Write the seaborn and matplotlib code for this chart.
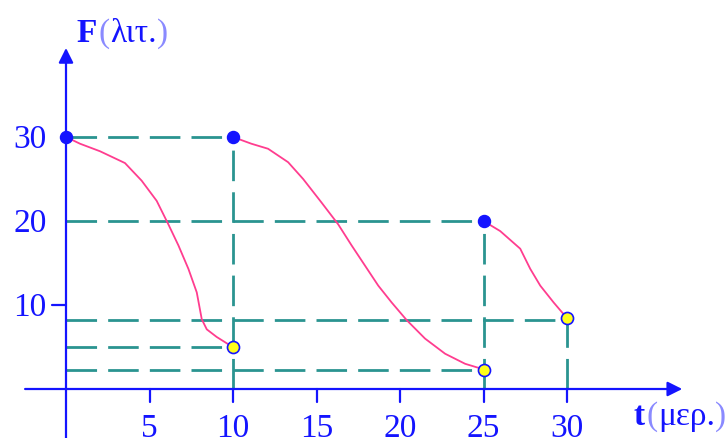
import matplotlib
matplotlib.use("Agg")
import matplotlib.pyplot as plt
import seaborn as sns
import pandas as pd

# values
curve1_t = [0, 0.84, 2.04, 3.53, 4.53, 5.43, 6.13, 6.73, 7.33, 7.83, 8.13, 8.43, 9.02, 9.82, 10]
curve1_f = [30, 29.2, 28.3, 26.9, 24.8, 22.4, 19.6, 17.1, 14.3, 11.5, 8.3, 7.1, 6.2, 5.2, 5]
curve2_t = [10, 11.1, 12.1, 13.3, 14.2, 15.3, 16.3, 17.1, 17.9, 18.7, 19.5, 20.4, 21.5, 22.7, 23.9, 24.9, 25]
curve2_f = [30, 29.2, 28.6, 27.0, 25.0, 22.2, 19.6, 17.1, 14.7, 12.3, 10.3, 8.2, 6.0, 4.2, 3.0, 2.4, 2.3]
curve3_t = [25, 26.0, 27.2, 27.8, 28.4, 29.2, 29.8, 30]
curve3_f = [20, 18.8, 16.7, 14.3, 12.3, 10.3, 8.9, 8.5]

start_t = [0, 10, 25]
start_f = [30, 30, 20]
end_t = [10, 25, 30]
end_f = [5, 2.3, 8.5]

x_ticks = [5, 10, 15, 20, 25, 30]
y_labels = [10, 20, 30]

# horizontal guides (level, right end) and vertical guides (position, top)
h_levels = [30, 20, 8.2, 5, 2.3]
h_ends = [10, 25, 30, 10, 25]
v_pos = [10, 25, 30]
v_tops = [30, 20, 8.5]

blue = "#1414ff"
light_blue = "#8a8aff"
teal = "#2a9490"
pink = "#ff3d8f"

sns.set_style("white")
plt.rcParams["font.family"] = ["Liberation Serif", "DejaVu Serif"]
plt.rcParams["lines.scale_dashes"] = False


def axis_title(fig, x_px, base_px, letter, unit):
    # bold letter, thin brackets, unit in between - placed piece by piece on one baseline
    renderer = fig.canvas.get_renderer()
    W, H = fig.bbox.width, fig.bbox.height
    pieces = [(letter, blue, "bold", 2), ("(", light_blue, "normal", 1),
              (unit, blue, "normal", 0), (")", light_blue, "normal", 0)]
    x = x_px
    for s, c, w, gap in pieces:
        t = fig.text(x / W, 1 - base_px / H, s, color=c, fontsize=24, fontweight=w,
                     ha="left", va="baseline")
        x = t.get_window_extent(renderer).x1 + gap


def main():
    fig = plt.figure(figsize=(7.28, 4.39), dpi=100)
    ax = fig.add_axes([0, 0, 1, 1])
    ax.set_xlim(-66 / 16.7, (728 - 66) / 16.7)
    ax.set_ylim(-(439 - 390) / 8.4, 390 / 8.4)
    ax.axis("off")

    # dashed guides
    for lev, end in zip(h_levels, h_ends):
        ax.plot([0, end], [lev, lev], color=teal, lw=2, ls=(0, (22, 8)), zorder=1)
    for pos, top in zip(v_pos, v_tops):
        ax.plot([pos, pos], [0, top], color=teal, lw=2, ls=(0, (22, 8)), zorder=1)

    # axes with arrow heads
    ax.annotate("", xy=(36.9, 0), xytext=(-2.45, 0),
                arrowprops=dict(arrowstyle="-|>", color=blue, lw=1.6,
                                mutation_scale=22, shrinkA=0, shrinkB=0), zorder=2)
    ax.annotate("", xy=(0, 40.6), xytext=(0, -6),
                arrowprops=dict(arrowstyle="-|>", color=blue, lw=1.6,
                                mutation_scale=22, shrinkA=0, shrinkB=0), zorder=2)

    # tick marks
    for t in x_ticks:
        ax.plot([t, t], [0, -1.6], color=blue, lw=1.6, zorder=2)
    ax.plot([-0.85, 0], [10, 10], color=blue, lw=1.6, zorder=2)

    # curves
    for tt, ff in [(curve1_t, curve1_f), (curve2_t, curve2_f), (curve3_t, curve3_f)]:
        df = pd.DataFrame({"t": tt, "F": ff})
        sns.lineplot(data=df, x="t", y="F", ax=ax, color=pink, lw=1.3,
                     sort=False, estimator=None, zorder=3)

    sns.scatterplot(x=start_t, y=start_f, ax=ax, color=blue, s=75,
                    edgecolor=blue, linewidth=1, zorder=4)
    sns.scatterplot(x=end_t, y=end_f, ax=ax, color="#ffff1a", s=75,
                    edgecolor=blue, linewidth=1.2, zorder=4)

    # tick labels
    for t in x_ticks:
        ax.text(t, -5.6, str(t), color=blue, fontsize=24, ha="center", va="baseline")
    for v in y_labels:
        ax.text(-2.15, v - 1.2, str(v), color=blue, fontsize=24, ha="center", va="baseline")

    # axis titles
    axis_title(fig, 76, 42, "F", "λιτ.")
    axis_title(fig, 633, 425, "t", "μερ.")

    fig.savefig("out.png", dpi=100)


if __name__ == "__main__":
    main()
